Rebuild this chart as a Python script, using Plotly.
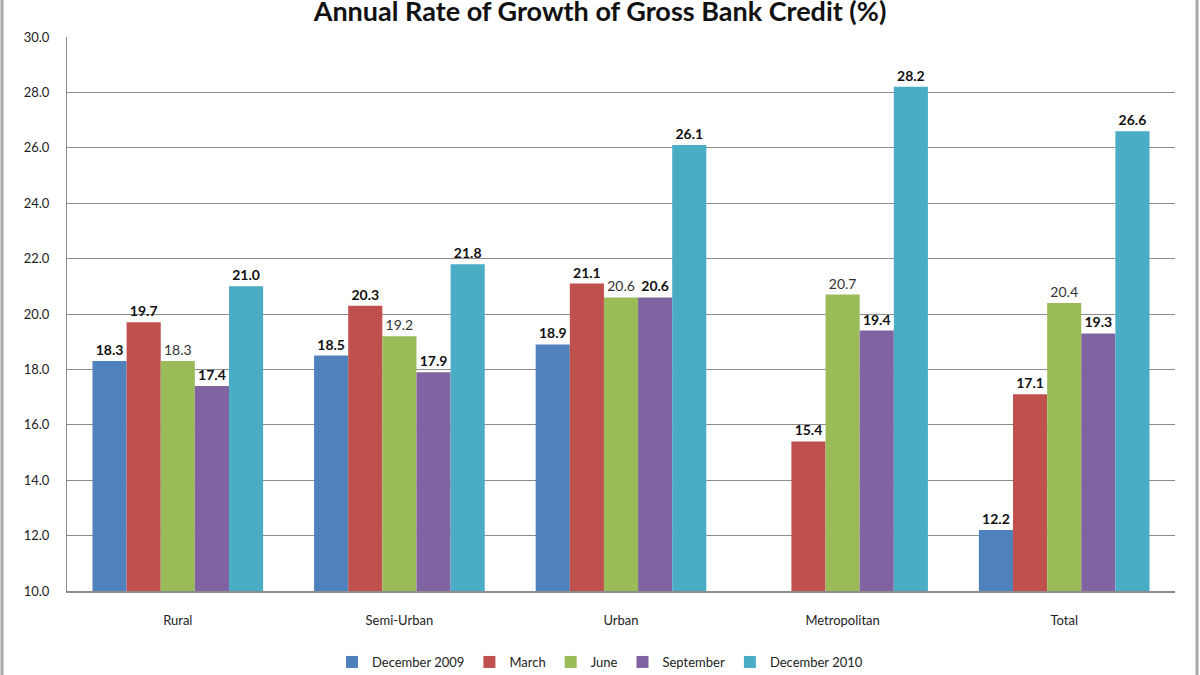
import plotly.graph_objects as go

categories = ["Rural", "Semi-Urban", "Urban", "Metropolitan", "Total"]
series_names = ["December 2009", "March", "June", "September", "December 2010"]
dec2009 = [18.3, 18.5, 18.9, None, 12.2]
march = [19.7, 20.3, 21.1, 15.4, 17.1]
june = [18.3, 19.2, 20.6, 20.7, 20.4]
september = [17.4, 17.9, 20.6, 19.4, 19.3]
dec2010 = [21.0, 21.8, 26.1, 28.2, 26.6]
y_ticks = [10.0, 12.0, 14.0, 16.0, 18.0, 20.0, 22.0, 24.0, 26.0, 28.0, 30.0]

colors = ["#4F81BD", "#C0504D", "#9BBB59", "#8064A2", "#4BACC6"]
bold = [True, True, False, True, True]
FONT = "Lato, Open Sans, sans-serif"

fig = go.Figure()
for name, vals, col, b in zip(series_names, [dec2009, march, june, september, dec2010], colors, bold):
    fig.add_trace(go.Bar(
        name=name, x=categories, y=vals,
        marker=dict(color=col, line=dict(width=0)),
        text=[("%.1f" % v) if v is not None else "" for v in vals],
        textposition="outside",
        textfont=dict(family=FONT, size=14, color="#111111" if b else "#333333",
                      weight="bold" if b else "normal"),
        cliponaxis=False,
    ))

fig.update_layout(
    width=1200, height=675,
    paper_bgcolor="white", plot_bgcolor="white",
    margin=dict(l=67, r=25, t=37, b=84, autoexpand=False),
    barmode="group", bargap=0.23, bargroupgap=0.0,
    font=dict(family=FONT, size=13, color="#222222"),
    title=dict(text="<b>Annual Rate of Growth of Gross Bank Credit (%)</b>",
               x=0.5, xanchor="center", y=1 - 12 / 675, yanchor="middle",
               yref="container", font=dict(family=FONT, size=27, color="#111111")),
    showlegend=True,
    legend=dict(orientation="h", xref="container", x=0.5, xanchor="center",
                yref="container", y=13 / 675, yanchor="middle",
                font=dict(family=FONT, size=13, color="#222222"),
                itemwidth=30, traceorder="normal"),
)
fig.update_yaxes(range=[10, 30], tickvals=y_ticks, tickformat=".1f",
                 showgrid=True, gridcolor="#8c8c8c", gridwidth=1,
                 showline=True, linecolor="#8c8c8c", linewidth=1,
                 ticks="", zeroline=False, ticklabelstandoff=14, automargin=False,
                 tickfont=dict(family=FONT, size=13, color="#222222"))
fig.update_xaxes(showline=True, linecolor="#8c8c8c", linewidth=2, ticks="",
                 ticklabelstandoff=16, automargin=False,
                 tickfont=dict(family=FONT, size=13, color="#222222"))

for xp in [(2 - 67) / 1108, (1197 - 67) / 1108]:
    fig.add_shape(type="line", xref="paper", yref="paper", x0=xp, x1=xp,
                  y0=-0.2, y1=1.1, line=dict(color="#a8a8a8", width=3))

post = ("document.body.style.margin='0';"
        "document.documentElement.style.overflow='hidden';"
        "document.body.style.overflow='hidden';"
        "var gd=document.getElementById('{plot_id}');"
        "gd.style.width='1200px';gd.style.height='675px';"
        "Plotly.Plots.resize(gd);")
fig.write_html("out.html", post_script=post, config={"displayModeBar": False})
